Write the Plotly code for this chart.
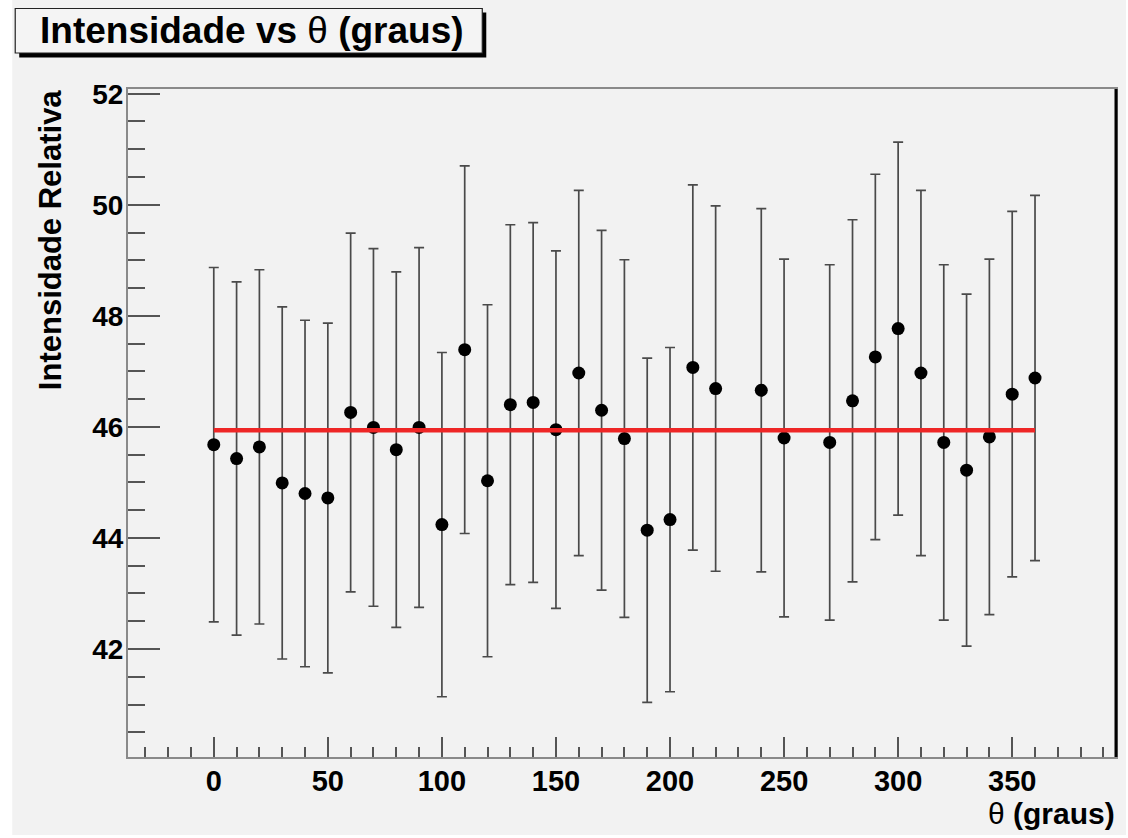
import plotly.graph_objects as go

# Measured relative intensity vs. angle (TGraphErrors-style data)
theta = [0, 10, 20, 30, 40, 50, 60, 70, 80, 90, 100, 110, 120, 130, 140, 150, 160,
         170, 180, 190, 200, 210, 220, 240, 250, 270, 280, 290, 300, 310, 320, 330,
         340, 350, 360]
intensidade = [45.68, 45.43, 45.64, 44.99, 44.80, 44.72, 46.26, 45.99, 45.59, 45.99,
               44.24, 47.39, 45.03, 46.40, 46.44, 45.95, 46.97, 46.30, 45.79, 44.14,
               44.33, 47.07, 46.69, 46.66, 45.80, 45.72, 46.47, 47.26, 47.77, 46.97,
               45.72, 45.22, 45.82, 46.59, 46.88]
erro = [3.19, 3.18, 3.19, 3.17, 3.12, 3.15, 3.23, 3.22, 3.20, 3.24, 3.10, 3.31, 3.17,
        3.24, 3.24, 3.22, 3.29, 3.24, 3.22, 3.10, 3.10, 3.29, 3.29, 3.27, 3.22, 3.20,
        3.26, 3.29, 3.36, 3.29, 3.20, 3.17, 3.20, 3.29, 3.29]

# Constant (pol0) fit over the measured range
fit_range = [0, 360]
fit_const = 45.94

W_PX, H_PX = 1128, 838
M_L, M_R, M_T, M_B = 128, 10, 89, 81
PW, PH = W_PX - M_L - M_R, H_PX - M_T - M_B


def px(x):
    return (x - M_L) / PW


def py(y):
    return (H_PX - M_B - y) / PH


BG = "#f2f2f2"
FONT = "Liberation Sans"

fig = go.Figure()

fig.add_trace(go.Scatter(
    x=theta, y=intensidade, mode="markers",
    marker=dict(symbol="circle", size=13, color="black"),
    error_y=dict(type="data", array=erro, visible=True,
                 color="#4a4a4a", thickness=1.7, width=5),
    showlegend=False,
))

fig.add_trace(go.Scatter(
    x=fit_range, y=[fit_const] * len(fit_range), mode="lines",
    line=dict(color="#ee2626", width=4.5),
    showlegend=False,
))

tick_col = "#555555"
fig.update_xaxes(
    range=[-37.6, 395.5], tick0=0, dtick=50,
    ticks="inside", ticklen=20, tickwidth=1.5, tickcolor=tick_col,
    minor=dict(dtick=10, ticks="inside", ticklen=10, tickwidth=1.5, tickcolor=tick_col),
    showgrid=False, zeroline=False,
    showline=True, linecolor="#8a8a8a", linewidth=2, mirror=True,
    tickfont=dict(family=FONT, size=29, color="black", weight="bold"),
    ticklabelstandoff=-3,
)
fig.update_yaxes(
    range=[40.055, 52.085], tick0=42, dtick=2,
    ticks="inside", ticklen=32, tickwidth=1.5, tickcolor=tick_col,
    minor=dict(dtick=0.5, ticks="inside", ticklen=17, tickwidth=1.5, tickcolor=tick_col),
    showgrid=False, zeroline=False,
    showline=True, linecolor="#8a8a8a", linewidth=2, mirror=True,
    tickfont=dict(family=FONT, size=28, color="black", weight="bold"),
    ticklabelstandoff=-3,
)

shapes = [
    # canvas fill
    dict(type="rect", xref="paper", yref="paper", layer="below",
         x0=px(12), x1=px(W_PX), y0=py(835), y1=py(0),
         fillcolor=BG, line=dict(width=0)),
    # dark right edge of the frame
    dict(type="line", xref="paper", yref="paper",
         x0=1, x1=1, y0=0, y1=1, line=dict(color="black", width=3)),
    # title box shadow
    dict(type="rect", xref="paper", yref="paper",
         x0=px(19), x1=px(487), y0=py(57.5), y1=py(12.5),
         fillcolor="black", line=dict(width=0)),
    # title box
    dict(type="rect", xref="paper", yref="paper",
         x0=px(15), x1=px(483), y0=py(53), y1=py(8.5),
         fillcolor="#f4f4f4", line=dict(color="#222222", width=1.2)),
]

annotations = [
    dict(xref="paper", yref="paper", x=px(252), y=py(30), xanchor="center", yanchor="middle",
         text="<b>Intensidade vs </b>θ<b> (graus)</b>", showarrow=False,
         font=dict(family=FONT, size=37, color="black")),
    dict(xref="paper", yref="paper", x=px(1119), y=py(813), xanchor="right", yanchor="middle",
         text="θ<b> (graus)</b>", showarrow=False,
         font=dict(family=FONT, size=30, color="black")),
    dict(xref="paper", yref="paper", x=px(50), y=py(240), xanchor="center", yanchor="middle",
         text="<b>Intensidade Relativa</b>", textangle=-90, showarrow=False,
         font=dict(family=FONT, size=31, color="black")),
]

fig.update_layout(
    width=W_PX, height=H_PX,
    margin=dict(l=M_L, r=M_R, t=M_T, b=M_B, pad=0),
    paper_bgcolor="white", plot_bgcolor="rgba(0,0,0,0)",
    shapes=shapes, annotations=annotations,
    font=dict(family=FONT, color="black"),
)

fig.write_html("out.html")
